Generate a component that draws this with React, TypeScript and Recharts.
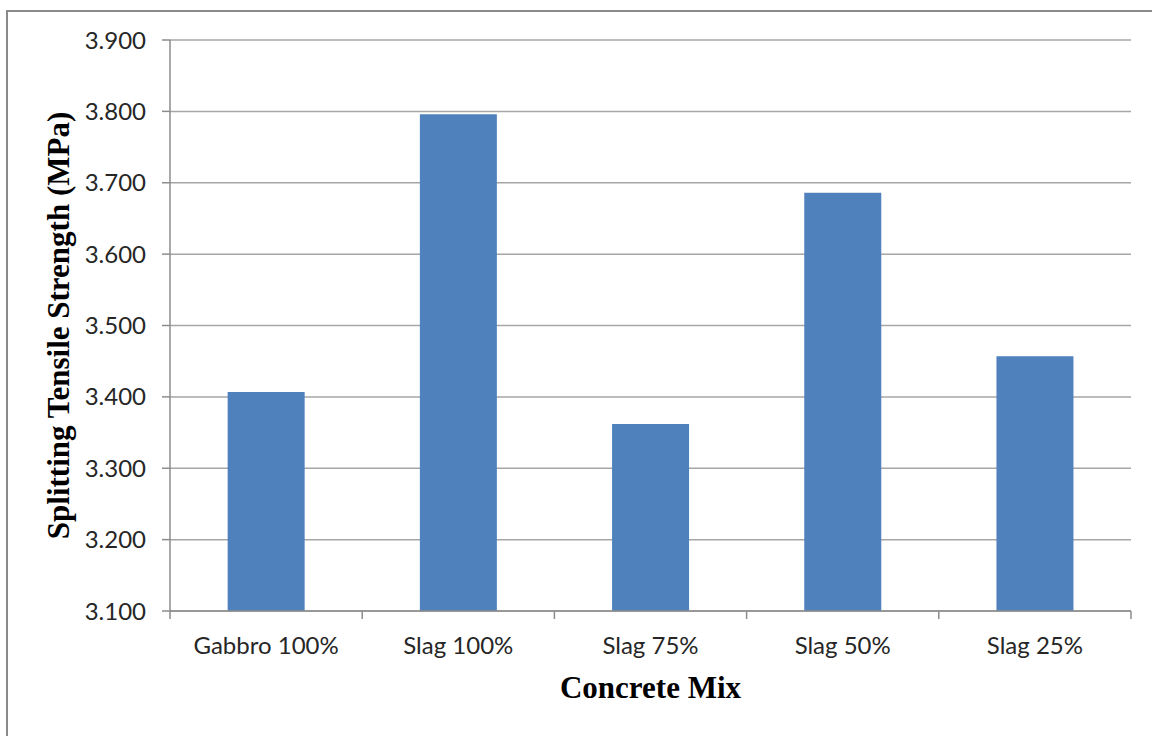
import React from "react";
import { Bar, BarChart, CartesianGrid, XAxis, YAxis } from "recharts";

// Colours (Excel 2010 default look).
const BAR = "#4f81bd";
const GRID = "#a6a6a6";
const AXIS = "#8c8c8c";
const TEXT = "#262626";

const mixes = ["Gabbro 100%", "Slag 100%", "Slag 75%", "Slag 50%", "Slag 25%"];
const strength = [3.407, 3.796, 3.362, 3.686, 3.457];
const yTicks = [3.1, 3.2, 3.3, 3.4, 3.5, 3.6, 3.7, 3.8, 3.9];

const data = mixes.map((mix, i) => ({ mix, value: strength[i] }));

const W = 1152;
const H = 736;
const Y_AXIS_W = 170;
const RIGHT = 21;
// half of one category band, so the tick marks sit between the bars
const HALF_BAND = (W - Y_AXIS_W - RIGHT) / mixes.length / 2;

// category label plus Excel-style tick marks on the band edges
function MixTick(props: any) {
  const { x, y, payload, index } = props;
  const axisY = y - 26;
  return (
    <g>
      <line x1={x - HALF_BAND} x2={x - HALF_BAND} y1={axisY} y2={axisY + 8} stroke={AXIS} strokeWidth={1.5} />
      {index === mixes.length - 1 && (
        <line x1={x + HALF_BAND} x2={x + HALF_BAND} y1={axisY} y2={axisY + 8} stroke={AXIS} strokeWidth={1.5} />
      )}
      <text x={x} y={y} dy="0.71em" textAnchor="middle" fontSize={24} fill={TEXT} fontFamily="Lato">
        {payload.value}
      </text>
    </g>
  );
}

export default function App() {
  return (
    <div
      style={{
        position: "absolute",
        left: 0,
        top: 0,
        width: W,
        height: H,
        overflow: "hidden",
        background: "#fff",
      }}
    >
      <div
        style={{
          position: "absolute",
          left: 6,
          top: 10,
          width: 1200,
          height: 800,
          border: "2px solid #8a8a8a",
          boxSizing: "border-box",
        }}
      />
      <BarChart
        width={W}
        height={H}
        data={data}
        barCategoryGap="30%"
        margin={{ top: 40, right: RIGHT, left: 0, bottom: 0 }}
        style={{ position: "absolute", left: 0, top: 0 }}
      >
        <CartesianGrid horizontal vertical={false} stroke={GRID} strokeWidth={1.5} />
        <XAxis
          dataKey="mix"
          height={125}
          tickLine={false}
          tickSize={8}
          tickMargin={18}
          axisLine={{ stroke: AXIS, strokeWidth: 1.5 }}
          tick={<MixTick />}
          label={{
            value: "Concrete Mix",
            position: "insideBottom",
            offset: 38,
            style: {
              fontFamily: "Liberation Serif",
              fontWeight: "bold",
              fontSize: 31,
              fill: "#000",
            },
          }}
        />
        <YAxis
          domain={[3.1, 3.9]}
          ticks={yTicks}
          width={Y_AXIS_W}
          tickSize={8}
          tickMargin={16}
          tickFormatter={(v: number) => v.toFixed(3)}
          axisLine={{ stroke: AXIS, strokeWidth: 1.5 }}
          tickLine={{ stroke: AXIS, strokeWidth: 1.5 }}
          tick={{ fontSize: 24, fill: TEXT, fontFamily: "Lato" }}
          label={{
            value: "Splitting Tensile Strength (MPa)",
            angle: -90,
            position: "insideLeft",
            offset: 58,
            style: {
              textAnchor: "middle",
              fontFamily: "Liberation Serif",
              fontWeight: "bold",
              fontSize: 31,
              fill: "#000",
            },
          }}
        />
        <Bar dataKey="value" fill={BAR} isAnimationActive={false} />
      </BarChart>
    </div>
  );
}
